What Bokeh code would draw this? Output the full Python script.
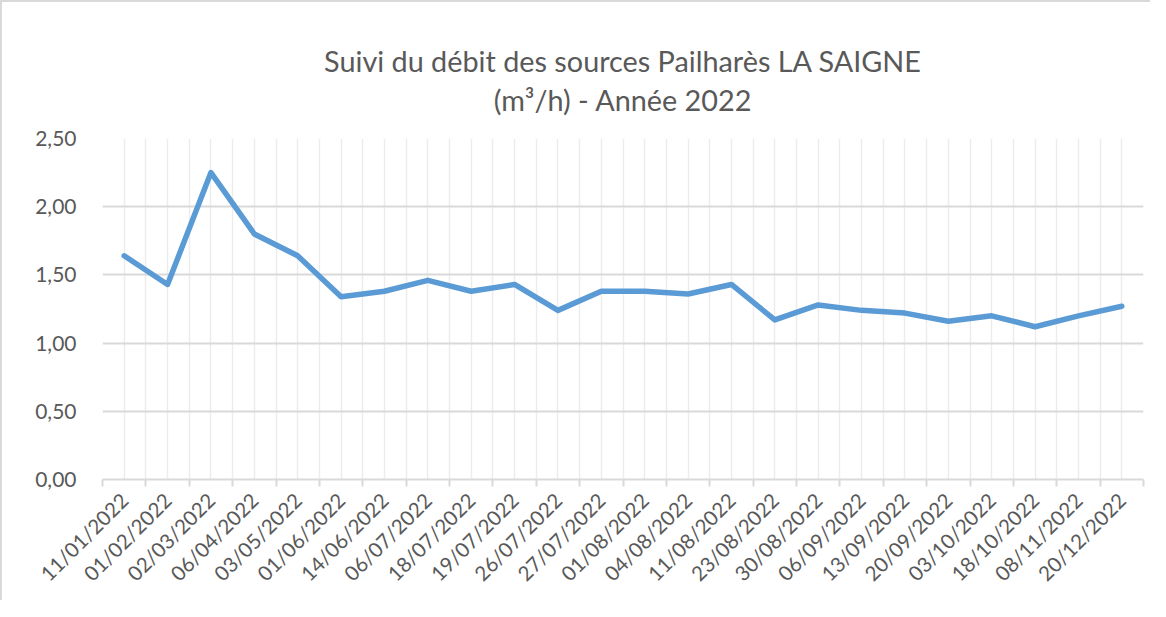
from math import pi
from bokeh.plotting import figure
from bokeh.models import FixedTicker, CustomJSTickFormatter, Title, Range1d, ColumnDataSource
from bokeh.embed import file_html
from bokeh.resources import INLINE

# ---- data ----
dates = ["11/01/2022", "01/02/2022", "02/03/2022", "06/04/2022", "03/05/2022",
         "01/06/2022", "14/06/2022", "06/07/2022", "18/07/2022", "19/07/2022",
         "26/07/2022", "27/07/2022", "01/08/2022", "04/08/2022", "11/08/2022",
         "23/08/2022", "30/08/2022", "06/09/2022", "13/09/2022", "20/09/2022",
         "03/10/2022", "18/10/2022", "08/11/2022", "20/12/2022"]
debit = [1.64, 1.43, 2.25, 1.80, 1.64,
         1.34, 1.38, 1.46, 1.38, 1.43,
         1.24, 1.38, 1.38, 1.36, 1.43,
         1.17, 1.28, 1.24, 1.22, 1.16,
         1.20, 1.12, 1.20, 1.27]
y_ticks = [0.0, 0.5, 1.0, 1.5, 2.0, 2.5]
title_line1 = "Suivi du débit des sources Pailharès LA SAIGNE"
title_line2 = "(m³/h) - Année 2022"

FONT = "Lato"
GREY_TXT = "#595959"

n = len(dates)
xs = list(range(1, n + 1))
src = ColumnDataSource(dict(x=xs, y=debit, date=dates))

p = figure(width=1150, height=600, output_backend="svg", toolbar_location=None,
           title=None,
           x_range=Range1d(0.5, n + 0.5), y_range=Range1d(y_ticks[0], y_ticks[-1]),
           min_border_left=100, min_border_right=9, min_border_bottom=123,
           min_border_top=136)
p.styles = {"border-left": "2px solid #d9d9d9", "border-top": "2px solid #d9d9d9"}
p.outline_line_color = None
p.background_fill_color = "white"
p.border_fill_color = "white"

# titles (added bottom-first)
t2 = Title(text=title_line2, align="center", vertical_align="top", text_font=FONT,
           text_font_size="28.8px", text_font_style="normal", text_color=GREY_TXT,
           standoff=39, offset=-10)
t1 = Title(text=title_line1, align="center", text_font=FONT, text_font_size="28.8px",
           text_font_style="normal", text_color=GREY_TXT, standoff=-29, offset=-10)
p.add_layout(t2, "above")
p.add_layout(t1, "above")

# x axis
xax = p.xaxis[0]
xax.ticker = FixedTicker(ticks=xs, minor_ticks=[i + 0.5 for i in range(0, n + 1)])
xax.major_label_overrides = {x: d for x, d in zip(xs, dates)}
xax.major_label_orientation = pi / 4
xax.major_label_text_font = FONT
xax.major_label_text_font_size = "20.5px"
xax.major_label_text_color = GREY_TXT
xax.major_label_standoff = 10
xax.major_tick_out = 0
xax.major_tick_in = 0
xax.minor_tick_out = 7
xax.minor_tick_in = 0
xax.minor_tick_line_color = "#d9d9d9"
xax.minor_tick_line_width = 2
xax.axis_line_color = "#d9d9d9"
xax.axis_line_width = 2

# y axis
yax = p.yaxis[0]
yax.ticker = FixedTicker(ticks=y_ticks)
yax.formatter = CustomJSTickFormatter(code="return tick.toFixed(2).replace('.', ',');")
yax.axis_line_color = None
yax.major_tick_line_color = None
yax.minor_tick_line_color = None
yax.major_label_text_font = FONT
yax.major_label_text_font_size = "21px"
yax.major_label_text_color = GREY_TXT
yax.major_label_standoff = 20

# grids
p.xgrid.grid_line_color = "#ececec"
p.xgrid.grid_line_width = 1.5
p.xgrid.minor_grid_line_color = "#ececec"
p.xgrid.minor_grid_line_width = 1.5
p.ygrid.ticker = FixedTicker(ticks=y_ticks)
p.ygrid.grid_line_color = "#d9d9d9"
p.ygrid.grid_line_width = 2

p.line("x", "y", source=src, line_color="#5b9bd5", line_width=5.5,
       line_join="round", line_cap="round")

open("out.html", "w").write(file_html(p, INLINE))
